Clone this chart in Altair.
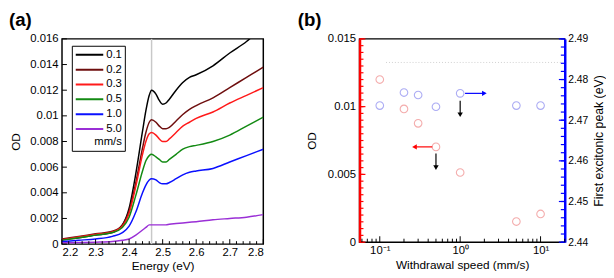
import altair as alt
import pandas as pd

# ---------------- panel (a) data ----------------
energy = [2.20, 2.25, 2.30, 2.35, 2.38, 2.40, 2.42, 2.44, 2.45, 2.46, 2.467, 2.48,
          2.49, 2.50, 2.51, 2.52, 2.54, 2.56, 2.58, 2.60, 2.65, 2.70, 2.75, 2.80]
od_01 = [0.00035, 0.0005, 0.0007, 0.0009, 0.0015, 0.0028, 0.0055, 0.0088, 0.0104, 0.0116, 0.0120, 0.0117,
         0.0112, 0.0109, 0.0110, 0.0113, 0.0120, 0.0126, 0.0130, 0.0132, 0.0139, 0.0149, 0.0158, 0.0170]
od_02 = [0.0004, 0.0006, 0.0008, 0.0010, 0.0015, 0.0026, 0.0048, 0.0075, 0.0087, 0.0095, 0.0097, 0.0095,
         0.0092, 0.0090, 0.0090, 0.0091, 0.0096, 0.0101, 0.0105, 0.0108, 0.0114, 0.0122, 0.0130, 0.0138]
od_03 = [0.00035, 0.00055, 0.00075, 0.00095, 0.0014, 0.0024, 0.0045, 0.0070, 0.0080, 0.0086, 0.0087, 0.0085,
         0.0082, 0.0080, 0.0080, 0.0082, 0.0087, 0.0092, 0.0095, 0.0098, 0.0103, 0.0110, 0.0116, 0.0122]
od_05 = [0.0003, 0.0005, 0.0007, 0.0009, 0.0013, 0.0021, 0.0038, 0.0057, 0.0065, 0.0069, 0.0070, 0.0068,
         0.0066, 0.0064, 0.0064, 0.0066, 0.0070, 0.0074, 0.0076, 0.0077, 0.0080, 0.0085, 0.0092, 0.0099]
od_10 = [0.0002, 0.0003, 0.0004, 0.0006, 0.0009, 0.0014, 0.0025, 0.0040, 0.0046, 0.0050, 0.0051, 0.0050,
         0.0048, 0.0047, 0.0047, 0.0048, 0.0051, 0.0054, 0.0056, 0.0057, 0.0059, 0.0064, 0.0069, 0.0074]
od_50 = [0.0001, 0.00012, 0.00015, 0.0002, 0.0003, 0.0004, 0.0007, 0.0011, 0.0013, 0.0015, 0.0015, 0.0015,
         0.0015, 0.0015, 0.0015, 0.00155, 0.0016, 0.00165, 0.0017, 0.00175, 0.0019, 0.0020, 0.0021, 0.0023]
speed_labels = ["0.1", "0.2", "0.3", "0.5", "1.0", "5.0"]
speed_colors = ["#000000", "#6e0e0e", "#ff1a1a", "#138a13", "#0a10ff", "#9a2fd6"]
peak_line_energy = [2.467]
a_xticks = [2.2, 2.3, 2.4, 2.5, 2.6, 2.7, 2.8]
a_xminor = [2.22, 2.24, 2.26, 2.28, 2.32, 2.34, 2.36, 2.38, 2.42, 2.44, 2.46, 2.48,
            2.52, 2.54, 2.56, 2.58, 2.62, 2.64, 2.66, 2.68, 2.72, 2.74, 2.76, 2.78]
a_yticks = [0, 0.002, 0.004, 0.006, 0.008, 0.010, 0.012, 0.014, 0.016]

# ---------------- panel (b) data ----------------
speeds = [0.1, 0.2, 0.3, 0.5, 1.0, 5.0, 10.0]
od_b = [0.0120, 0.00983, 0.00877, 0.00703, 0.00514, 0.00152, 0.00208]
peak_b = [2.4736, 2.4768, 2.4762, 2.4733, 2.4766, 2.4736, 2.4736]
b_xticks = [0.1, 1, 10]
b_xminor = [0.06, 0.07, 0.08, 0.09, 0.2, 0.3, 0.4, 0.5, 0.6, 0.7, 0.8, 0.9,
            2, 3, 4, 5, 6, 7, 8, 9, 20]
b_lticks = [0, 0.005, 0.01, 0.015]
b_lminor = [i * 0.0005 for i in range(31)]
b_rticks = [2.44, 2.45, 2.46, 2.47, 2.48, 2.49]
b_rminor = [2.44 + i * 0.002 for i in range(26)]

FONT = "Liberation Sans"
WA, HA = 205, 209
WB, HB = 209, 207

# ================= panel (a) =================
rows = []
for lab, vals in zip(speed_labels, [od_01, od_02, od_03, od_05, od_10, od_50]):
    for e, v in zip(energy, vals):
        rows.append({"E": e, "OD": v, "speed": lab})
spec = pd.DataFrame(rows)

xs = alt.Scale(domain=[2.2, 2.8], nice=False, zero=False)
ys = alt.Scale(domain=[0, 0.016], nice=False)
ax_ax = alt.Axis(values=a_xticks, format=".1f", title="Energy (eV)", labelPadding=3,
                 titlePadding=2, labelFontSize=11.5, titleFontSize=12)
ax_ay = alt.Axis(values=a_yticks, format=".3~f", title="OD", labelPadding=4, titlePadding=7,
                 labelFontSize=11.5, titleFontSize=12)

vline = alt.Chart(pd.DataFrame({"E": peak_line_energy})).mark_rule(
    color="#c8c8c8", strokeWidth=1.5).encode(x=alt.X("E:Q", scale=xs, axis=ax_ax))

lines = alt.Chart(spec).mark_line(clip=True, strokeWidth=1.5, interpolate="monotone").encode(
    x=alt.X("E:Q", scale=xs, axis=ax_ax),
    y=alt.Y("OD:Q", scale=ys, axis=ax_ay),
    color=alt.Color("speed:N", scale=alt.Scale(domain=speed_labels, range=speed_colors),
                    legend=alt.Legend(title="mm/s", orient="none", legendX=10, legendY=7,
                                      titleOrient="bottom", titleAnchor="end",
                                      titleFontWeight="normal", titleFontSize=11.5,
                                      titlePadding=1, labelFontSize=11.5, labelOffset=2,
                                      symbolType="stroke", symbolSize=784, symbolStrokeWidth=2,
                                      strokeColor="black", fillColor="white", padding=3,
                                      clipHeight=12.5, rowPadding=2.1,
                                      labelExpr="datum.label + '\u00a0\u00a0\u00a0\u00a0\u00a0\u00a0'")),
    detail="speed:N",
)

a_xmaj = alt.Chart(pd.DataFrame({"E": a_xticks})).mark_rule(color="black", strokeWidth=1).encode(
    x=alt.X("E:Q", scale=xs, axis=ax_ax), y=alt.value(HA), y2=alt.value(HA - 5))
a_xmin = alt.Chart(pd.DataFrame({"E": a_xminor})).mark_rule(color="black", strokeWidth=1).encode(
    x=alt.X("E:Q", scale=xs, axis=ax_ax), y=alt.value(HA), y2=alt.value(HA - 3))
a_ymaj = alt.Chart(pd.DataFrame({"OD": a_yticks})).mark_rule(color="black", strokeWidth=1).encode(
    y=alt.Y("OD:Q", scale=ys, axis=ax_ay), x=alt.value(0), x2=alt.value(5))
a_lab = alt.Chart(pd.DataFrame({"t": ["(a)"]})).mark_text(
    align="left", baseline="top", fontSize=19, fontWeight="bold", font=FONT).encode(
    text="t:N", x=alt.value(-54), y=alt.value(-28))

panel_a = alt.layer(vline, lines, a_xmaj, a_xmin, a_ymaj, a_lab).properties(width=WA, height=HA)

# ================= panel (b) =================
xb = alt.Scale(type="log", domain=[0.056, 20], nice=False)
yl = alt.Scale(domain=[0, 0.015], nice=False)
yr = alt.Scale(domain=[2.44, 2.49], nice=False)
ax_bx = alt.Axis(values=b_xticks, title="Withdrawal speed (mm/s)",
                 labelExpr="datum.value < 0.5 ? '10\u207b\u00b9' : datum.value < 5 ? '10\u2070' : '10\u00b9'",
                 labelPadding=3, titlePadding=3, labelFontSize=11.5, titleFontSize=12)

dfb = pd.DataFrame({"s": speeds, "od": od_b, "pk": peak_b})

red_pts = alt.Chart(dfb).mark_point(shape="circle", size=60, filled=False, color="#f08a8a",
                                     strokeWidth=1.1).encode(
    x=alt.X("s:Q", scale=xb, axis=ax_bx),
    y=alt.Y("od:Q", scale=yl, axis=alt.Axis(values=b_lticks, format=".3~f", title="OD",
                                             orient="left", domain=True, domainColor="#ff0000",
                                             domainWidth=2.5, labelPadding=4, titlePadding=9,
                                             labelFontSize=11.5, titleFontSize=12)))
blue_pts = alt.Chart(dfb).mark_point(shape="circle", size=60, filled=False, color="#8a8af0",
                                      strokeWidth=1.1).encode(
    x=alt.X("s:Q", scale=xb, axis=ax_bx),
    y=alt.Y("pk:Q", scale=yr, axis=alt.Axis(values=b_rticks, format=".2f",
                                             title="First excitonic peak (eV)", orient="right",
                                             domain=True, domainColor="#0000ff", domainWidth=2.5,
                                             labelPadding=3, titlePadding=5, titleAngle=270,
                                             titleBaseline="top",
                                             labelFontSize=10.5, titleFontSize=12.5)))

# dotted guide
dotted = alt.Chart(pd.DataFrame({"pk": [2.4842]})).mark_rule(
    color="#d0d0d0", strokeDash=[1, 2], strokeWidth=1).encode(
    y=alt.Y("pk:Q", scale=yr, axis=None), x=alt.value(27), x2=alt.value(205))

# arrows
blue_arrow = alt.Chart(pd.DataFrame({"s": [1.15], "s2": [2.0], "pk": [2.4766]})).mark_rule(
    color="#0000ff", strokeWidth=1.2).encode(
    x=alt.X("s:Q", scale=xb, axis=ax_bx), x2="s2:Q", y=alt.Y("pk:Q", scale=yr, axis=None))
blue_head = alt.Chart(pd.DataFrame({"s": [2.0], "pk": [2.4766]})).mark_point(
    shape="triangle-right", size=30, filled=True, color="#0000ff", opacity=1).encode(
    x=alt.X("s:Q", scale=xb, axis=ax_bx), y=alt.Y("pk:Q", scale=yr, axis=None))

red_arrow = alt.Chart(pd.DataFrame({"s": [0.45], "s2": [0.27], "od": [0.00703]})).mark_rule(
    color="#ff0000", strokeWidth=1.2).encode(
    x=alt.X("s:Q", scale=xb, axis=ax_bx), x2="s2:Q", y=alt.Y("od:Q", scale=yl, axis=None))
red_head = alt.Chart(pd.DataFrame({"s": [0.27], "od": [0.00703]})).mark_point(
    shape="triangle-left", size=30, filled=True, color="#ff0000", opacity=1).encode(
    x=alt.X("s:Q", scale=xb, axis=ax_bx), y=alt.Y("od:Q", scale=yl, axis=None))

blk_arrow = alt.Chart(pd.DataFrame({"s": [1.0, 0.5], "od": [0.01043, 0.00655],
                                    "od2": [0.0094, 0.0055]})).mark_rule(
    color="black", strokeWidth=1.2).encode(
    x=alt.X("s:Q", scale=xb, axis=ax_bx), y=alt.Y("od:Q", scale=yl, axis=None), y2="od2:Q")
blk_head = alt.Chart(pd.DataFrame({"s": [1.0, 0.5], "od": [0.0094, 0.0055]})).mark_point(
    shape="triangle-down", size=30, filled=True, color="black", opacity=1).encode(
    x=alt.X("s:Q", scale=xb, axis=ax_bx), y=alt.Y("od:Q", scale=yl, axis=None))

# inward ticks
b_lmaj = alt.Chart(pd.DataFrame({"od": b_lticks})).mark_rule(color="#ff0000", strokeWidth=1.2).encode(
    y=alt.Y("od:Q", scale=yl, axis=None), x=alt.value(0), x2=alt.value(6))
b_lmin = alt.Chart(pd.DataFrame({"od": b_lminor})).mark_rule(color="#ff0000", strokeWidth=1.2).encode(
    y=alt.Y("od:Q", scale=yl, axis=None), x=alt.value(0), x2=alt.value(4))
b_rmaj = alt.Chart(pd.DataFrame({"pk": b_rticks})).mark_rule(color="#0000ff", strokeWidth=1.2).encode(
    y=alt.Y("pk:Q", scale=yr, axis=None), x=alt.value(WB), x2=alt.value(WB - 6))
b_rmin = alt.Chart(pd.DataFrame({"pk": b_rminor})).mark_rule(color="#0000ff", strokeWidth=1.2).encode(
    y=alt.Y("pk:Q", scale=yr, axis=None), x=alt.value(WB), x2=alt.value(WB - 4))
b_xmaj = alt.Chart(pd.DataFrame({"s": b_xticks})).mark_rule(color="black", strokeWidth=1).encode(
    x=alt.X("s:Q", scale=xb, axis=ax_bx), y=alt.value(HB), y2=alt.value(HB - 6))
b_xmin = alt.Chart(pd.DataFrame({"s": b_xminor})).mark_rule(color="black", strokeWidth=1).encode(
    x=alt.X("s:Q", scale=xb, axis=ax_bx), y=alt.value(HB), y2=alt.value(HB - 3.5))
b_lab = alt.Chart(pd.DataFrame({"t": ["(b)"]})).mark_text(
    align="left", baseline="top", fontSize=19, fontWeight="bold", font=FONT).encode(
    text="t:N", x=alt.value(-63), y=alt.value(-28))

panel_b = alt.layer(
    red_pts, blue_pts, dotted, blue_arrow, blue_head, red_arrow, red_head, blk_arrow, blk_head,
    b_lmaj, b_lmin, b_rmaj, b_rmin, b_xmaj, b_xmin, b_lab
).resolve_scale(y="independent").properties(width=WB, height=HB)

chart = alt.hconcat(panel_a, panel_b, spacing=98, bounds="flush").properties(
    padding=0
).configure(font=FONT).configure_view(stroke="black", strokeWidth=1.5).configure_axis(
    grid=False, ticks=False, domain=False, labelColor="black", titleColor="black",
    titleFontWeight="normal", labelFont=FONT, titleFont=FONT
).configure_legend(labelFont=FONT, titleFont=FONT)

chart.save("out.html", embed_options={"renderer": "svg", "actions": False})
